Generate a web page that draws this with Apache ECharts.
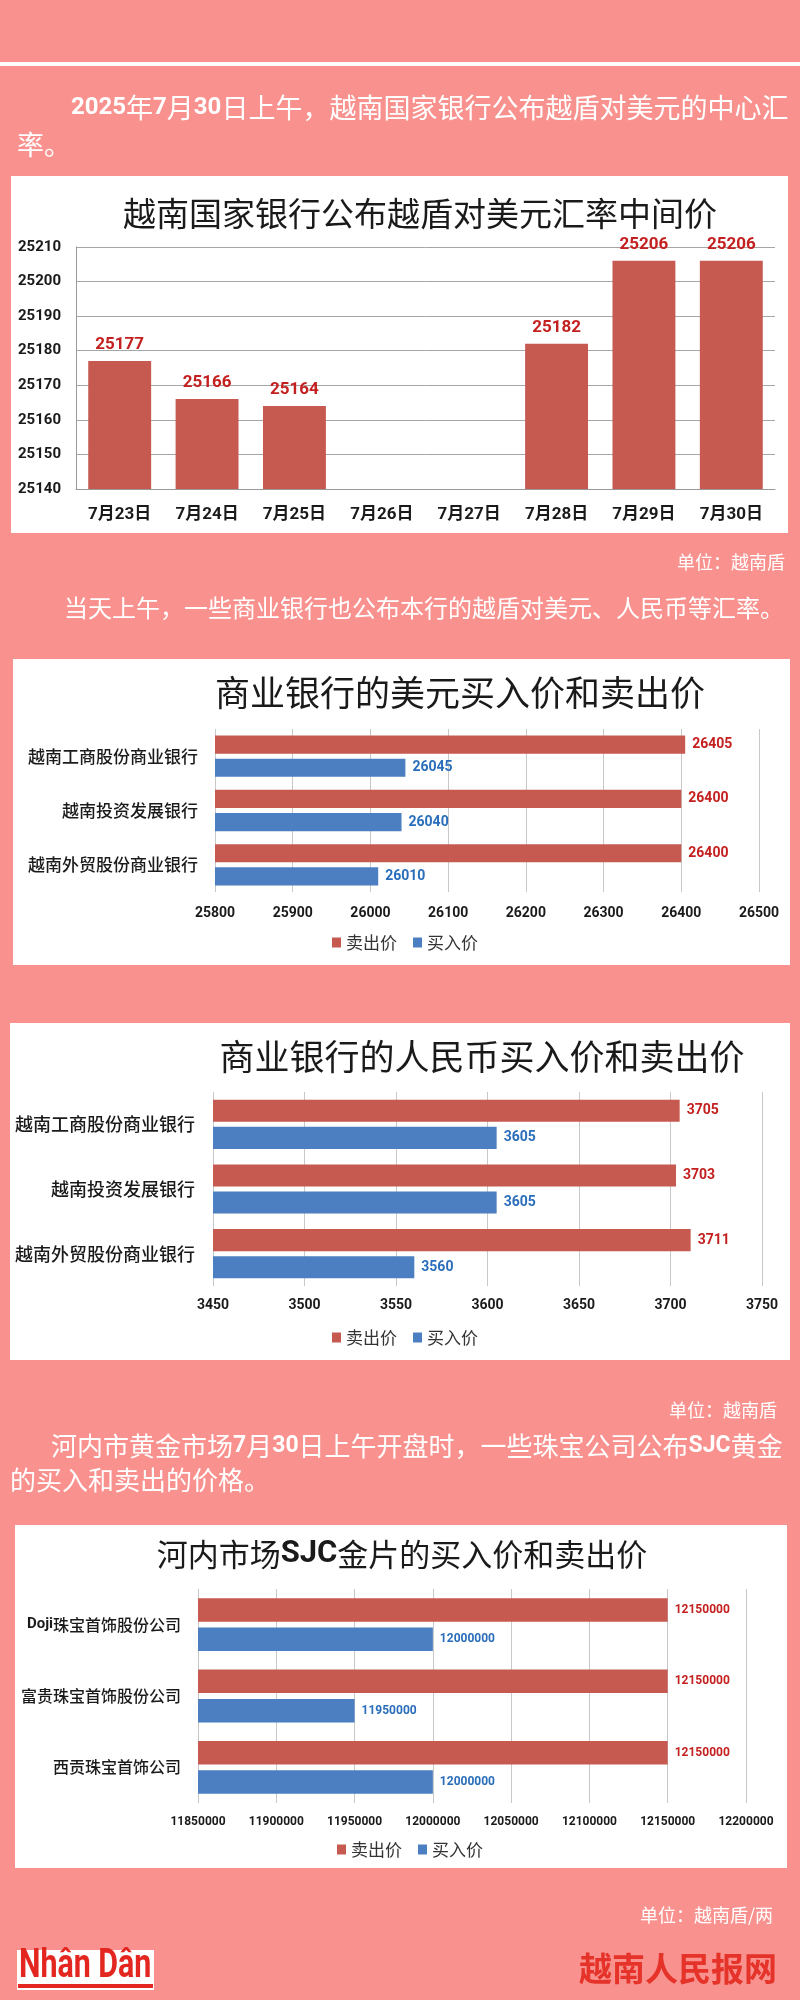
<!DOCTYPE html>
<html>
<head>
<meta charset="utf-8">
<script src="https://cdn.jsdelivr.net/npm/echarts@6/dist/echarts.min.js"></script>
<style>
  html, body { margin: 0; padding: 0; background: #f9928e; }
  #main { width: 800px; height: 2000px; }
</style>
</head>
<body>
<div id="main"></div>
<script>
// ---------------- DATA ----------------
const dates = ['7月23日', '7月24日', '7月25日', '7月26日', '7月27日', '7月28日', '7月29日', '7月30日'];
const centralRate = [25177, 25166, 25164, null, null, 25182, 25206, 25206];

const seriesNames = ['卖出价', '买入价'];

const banks = ['越南工商股份商业银行', '越南投资发展银行', '越南外贸股份商业银行'];
const usdSell = [26405, 26400, 26400];
const usdBuy = [26045, 26040, 26010];

const cnySell = [3705, 3703, 3711];
const cnyBuy = [3605, 3605, 3560];

const goldCompanies = ['Doji珠宝首饰股份公司', '富贵珠宝首饰股份公司', '西贡珠宝首饰公司'];
const goldSell = [12150000, 12150000, 12150000];
const goldBuy = [12000000, 11950000, 12000000];

const rateAxis = { min: 25140, max: 25210, interval: 10 };
const usdAxis = { min: 25800, max: 26500, interval: 100 };
const cnyAxis = { min: 3450, max: 3750, interval: 50 };
const goldAxis = { min: 11850000, max: 12200000, interval: 50000 };

// ---------------- STYLE ----------------
const RED = '#c65a50';
const BLUE = '#4b7fc1';
const RED_TXT = '#c3201f';
const BLUE_TXT = '#2a6ebb';
const NUM_FONT = "Roboto, 'Noto Sans CJK SC', sans-serif";
const CJK_FONT = "'Noto Sans CJK SC', sans-serif";
const DARK = '#1a1a1a';

const chart = echarts.init(document.getElementById('main'), null, { renderer: 'canvas', width: 800, height: 2000 });

function valueAxis(gridIndex, cfg, fontSize, margin, gridColor) {
  return {
    type: 'value', gridIndex: gridIndex,
    min: cfg.min, max: cfg.max, interval: cfg.interval,
    axisLine: { show: false }, axisTick: { show: false },
    splitLine: { show: true, lineStyle: { color: gridColor, width: 1 } },
    axisLabel: { margin: margin, fontSize: fontSize, fontWeight: 'bold', color: DARK, fontFamily: NUM_FONT, formatter: v => String(v) }
  };
}
function catAxisY(gridIndex, data, fontSize, margin, extra) {
  return Object.assign({
    type: 'category', gridIndex: gridIndex, data: data, inverse: true,
    axisLine: { show: false }, axisTick: { show: false }, splitLine: { show: false },
    axisLabel: { margin: margin, fontSize: fontSize, color: DARK, fontFamily: CJK_FONT, fontWeight: 500 }
  }, extra || {});
}
function hbar(name, data, idx, color, txtColor, fontSize, gap, catGap) {
  return {
    type: 'bar', name: name, xAxisIndex: idx, yAxisIndex: idx, data: data,
    barGap: gap, barCategoryGap: catGap,
    itemStyle: { color: color },
    label: { show: true, position: 'right', distance: 7, color: txtColor, fontWeight: 'bold', fontSize: fontSize, fontFamily: NUM_FONT, formatter: p => String(p.value) }
  };
}
function legendAt(left, top) {
  return {
    data: seriesNames, left: left, top: top, padding: 0, icon: 'rect',
    itemWidth: 9, itemHeight: 10, itemGap: 16, selectedMode: false,
    textStyle: { fontSize: 17, color: '#333', fontFamily: CJK_FONT }
  };
}
function txt(x, y, text, size, opts) {
  opts = opts || {};
  return {
    type: 'text', x: x, y: y, z: 10,
    scaleX: opts.scaleX || 1,
    style: Object.assign({
      text: text, fill: opts.fill || '#ffffff',
      fontSize: size, fontFamily: opts.family || CJK_FONT, fontWeight: opts.weight || 'normal',
      textAlign: opts.align || 'left', textVerticalAlign: 'middle'
    }, opts.rich ? { rich: opts.rich } : {})
  };
}
function box(x, y, w, h, fill) {
  return { type: 'rect', z: -1, shape: { x: x, y: y, width: w, height: h }, style: { fill: fill || '#ffffff' } };
}

const para1Rich = { b: { fontSize: 24, fontWeight: 'bold', fontFamily: NUM_FONT, fill: '#fff' }, n: { fontSize: 27, fontFamily: CJK_FONT, fill: '#fff' } };
const para3Rich = { b: { fontSize: 23, fontWeight: 'bold', fontFamily: NUM_FONT, fill: '#fff' }, n: { fontSize: 26, fontFamily: CJK_FONT, fill: '#fff' } };

const option = {
  backgroundColor: '#f9928e',
  animation: false,
  grid: [
    { left: 76, top: 247, width: 699, height: 242 },
    { left: 215, top: 729, width: 544, height: 163 },
    { left: 213, top: 1092, width: 549, height: 194 },
    { left: 198, top: 1589, width: 548, height: 214 }
  ],
  xAxis: [
    {
      type: 'category', gridIndex: 0, data: dates,
      axisLine: { show: true, lineStyle: { color: '#999', width: 1 } },
      axisTick: { show: false },
      axisLabel: { margin: 17, fontSize: 17, fontWeight: 'bold', color: DARK, fontFamily: NUM_FONT }
    },
    valueAxis(1, usdAxis, 14, 14, '#c8c8c8'),
    valueAxis(2, cnyAxis, 14, 12, '#c8c8c8'),
    valueAxis(3, goldAxis, 12, 13, '#c8c8c8')
  ],
  yAxis: [
    {
      type: 'value', gridIndex: 0,
      min: rateAxis.min, max: rateAxis.max, interval: rateAxis.interval,
      axisLine: { show: true, lineStyle: { color: '#999', width: 1 } },
      axisTick: { show: false },
      splitLine: { show: true, lineStyle: { color: '#a6a6a6', width: 1 } },
      axisLabel: { margin: 15, fontSize: 15, fontWeight: 'bold', color: DARK, fontFamily: NUM_FONT, formatter: v => String(v) }
    },
    catAxisY(1, banks, 17, 17),
    catAxisY(2, banks, 18, 18),
    catAxisY(3, goldCompanies, 16, 17, {
      axisLabel: {
        margin: 17, fontSize: 16, color: DARK, fontFamily: CJK_FONT, fontWeight: 500,
        formatter: v => v.indexOf('Doji') === 0 ? '{d|Doji}' + v.slice(4) : v,
        rich: { d: { fontSize: 15, fontWeight: 'bold', fontFamily: NUM_FONT, color: DARK } }
      }
    })
  ],
  legend: [
    legendAt(332, 934),
    legendAt(332, 1329),
    legendAt(337, 1841)
  ],
  series: [
    {
      type: 'bar', name: '中间价', xAxisIndex: 0, yAxisIndex: 0, data: centralRate,
      barCategoryGap: '28%',
      itemStyle: { color: RED },
      label: { show: true, position: 'top', distance: 8, color: RED_TXT, fontWeight: 'bold', fontSize: 17, fontFamily: NUM_FONT, formatter: p => String(p.value) }
    },
    hbar(seriesNames[0], usdSell, 1, RED, RED_TXT, 14, '28%', '24%'),
    hbar(seriesNames[1], usdBuy, 1, BLUE, BLUE_TXT, 14, '28%', '24%'),
    hbar(seriesNames[0], cnySell, 2, RED, RED_TXT, 14, '23%', '24%'),
    hbar(seriesNames[1], cnyBuy, 2, BLUE, BLUE_TXT, 14, '23%', '24%'),
    hbar(seriesNames[0], goldSell, 3, RED, RED_TXT, 12, '25%', '26%'),
    hbar(seriesNames[1], goldBuy, 3, BLUE, BLUE_TXT, 12, '25%', '26%')
  ],
  graphic: {
    elements: [
      box(0, 62, 800, 4),
      box(11, 176, 777, 357),
      box(13, 659, 777, 306),
      box(10, 1023, 780, 337),
      box(15, 1525, 772, 343),

      // paragraph 1
      txt(71, 108, '{b|2025}{n|年}{b|7}{n|月}{b|30}{n|日上午，越南国家银行公布越盾对美元的中心汇}', 27, { rich: para1Rich }),
      txt(17, 145, '率。', 27),
      // chart titles
      txt(420, 213, '越南国家银行公布越盾对美元汇率中间价', 33, { fill: DARK, align: 'center' }),
      txt(460, 693, '商业银行的美元买入价和卖出价', 35, { fill: DARK, align: 'center' }),
      txt(482, 1057, '商业银行的人民币买入价和卖出价', 35, { fill: DARK, align: 'center' }),
      txt(402, 1554, '{n|河内市场}{s|SJC}{n|金片的买入价和卖出价}', 31, {
        fill: DARK, align: 'center',
        rich: { n: { fontSize: 31, fontFamily: CJK_FONT, fill: DARK }, s: { fontSize: 31, fontWeight: 'bold', fontFamily: NUM_FONT, fill: DARK } }
      }),
      // units and paragraphs
      txt(785, 562, '单位：越南盾', 18, { align: 'right' }),
      txt(64, 608, '当天上午，一些商业银行也公布本行的越盾对美元、人民币等汇率。', 24),
      txt(777, 1410, '单位：越南盾', 18, { align: 'right' }),
      txt(51, 1446, '{n|河内市黄金市场}{b|7}{n|月}{b|30}{n|日上午开盘时，一些珠宝公司公布}{b|SJC}{n|黄金}', 26, { rich: para3Rich }),
      txt(10, 1480, '的买入和卖出的价格。', 26),
      txt(773, 1915, '单位：越南盾/两', 18, { align: 'right' }),

      // footer logos
      { type: 'rect', z: 5, shape: { x: 17, y: 1950, width: 137, height: 40 }, style: { fill: '#ffffff' } },
      txt(19, 1967, 'Nhân Dân', 40, { fill: '#e3261f', weight: 'bold', family: NUM_FONT, scaleX: 0.76 }),
      { type: 'rect', z: 10, shape: { x: 18, y: 1984, width: 135, height: 4 }, style: { fill: '#e3261f' } },
      txt(777, 1968, '越南人民报网', 33, { fill: '#e5332a', weight: 'bold', align: 'right' })
    ]
  }
};

chart.setOption(option);
</script>
</body>
</html>
